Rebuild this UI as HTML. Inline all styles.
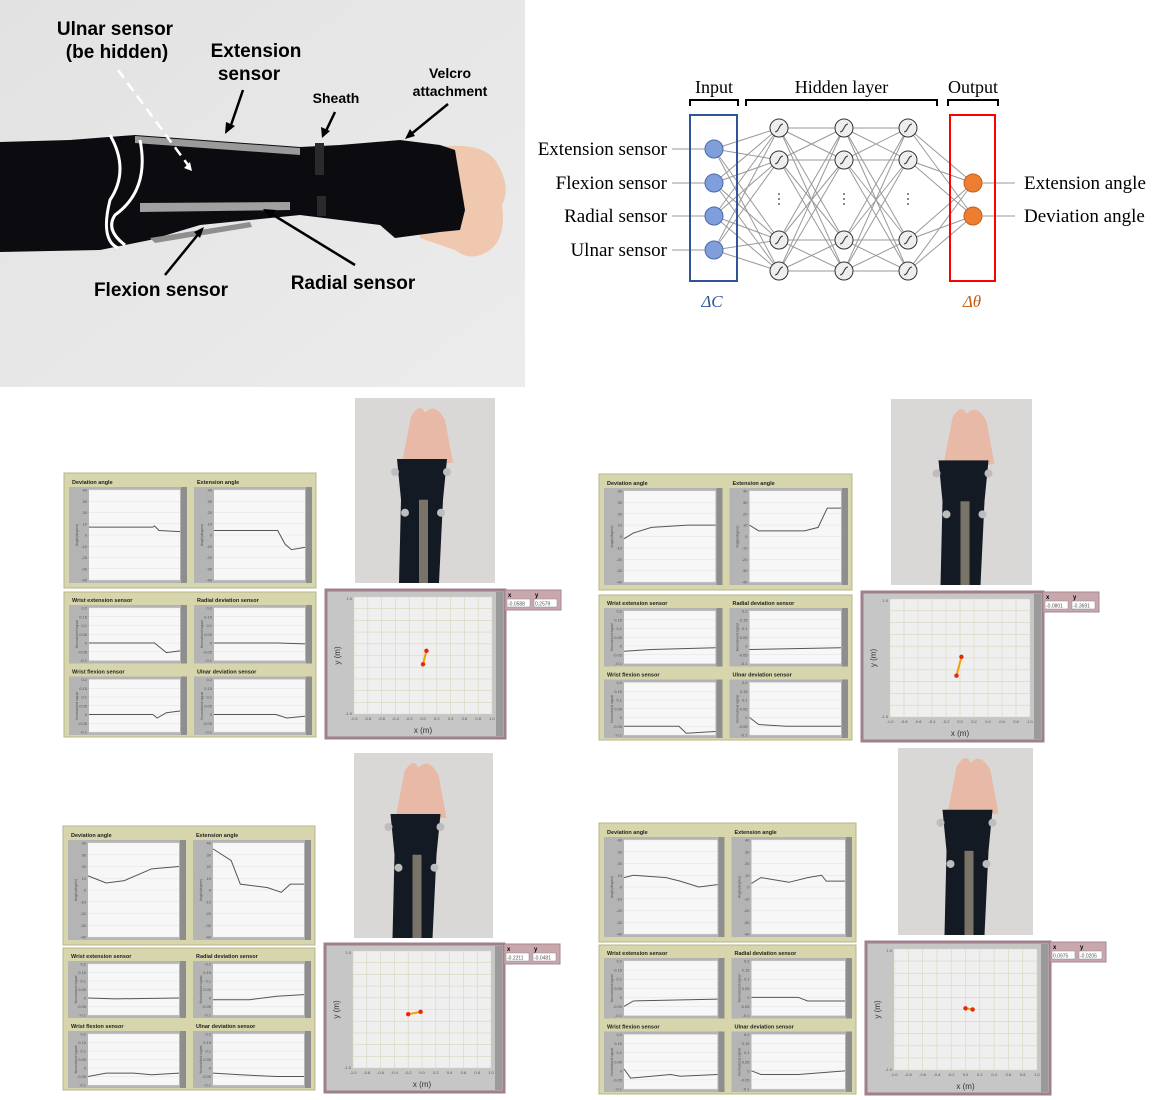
<!DOCTYPE html>
<html><head><meta charset="utf-8"><style>
html,body{margin:0;padding:0;background:#fff;}
svg{display:block;}
</style></head><body>
<svg id="s" width="1173" height="1100" xmlns="http://www.w3.org/2000/svg" font-family="Liberation Sans, sans-serif">
<defs><linearGradient id="wall" x1="0" y1="0" x2="1" y2="1"><stop offset="0" stop-color="#e2e2e2"/><stop offset="1" stop-color="#ececec"/></linearGradient></defs>
<rect x="0" y="0" width="525" height="387" fill="url(#wall)"/>
<path d="M430,148 Q480,140 495,160 Q512,185 502,205 Q507,240 487,252 Q470,262 455,250 L420,238 Z" fill="#f0c8b0"/>
<path d="M0,142 L70,140 L135,135 L300,147 L340,145 L400,140 L440,145 L455,150 L465,210 L460,230 L440,232 L395,238 L380,225 L300,215 L200,225 L150,240 L100,250 L0,252 Z" fill="#0b0b10"/>
<path d="M135,136 L300,148 L300,155 L135,143 Z" fill="#9a9a9a"/>
<path d="M140,203 L290,202 L290,210 L140,212 Z" fill="#a0a0a0"/>
<path d="M150,238 L250,222 L252,227 L155,243 Z" fill="#8e8e8e"/>
<path d="M110,135 Q130,170 110,200 Q100,240 118,248 M140,140 Q150,190 115,215 Q105,230 125,245" stroke="#fff" stroke-width="3" fill="none"/>
<rect x="315" y="143" width="9" height="32" fill="#2a2a2a"/>
<rect x="317" y="196" width="9" height="20" fill="#2a2a2a"/>
<line x1="118" y1="70" x2="188" y2="165" stroke="#fff" stroke-width="2.5" stroke-dasharray="10,6"/>
<path d="M184,168 L192,171 L190,162 Z" fill="#fff"/>
<g stroke="#000" stroke-width="2.5"><line x1="243" y1="90" x2="230" y2="128"/><line x1="335" y1="112" x2="325" y2="133"/><line x1="448" y1="104" x2="410" y2="135"/><line x1="200" y1="232" x2="165" y2="275"/><line x1="270" y1="213" x2="355" y2="265"/></g>
<g fill="#000"><path d="M225,134 L226,122 L235,126 Z"/><path d="M322,138 L321,127 L330,131 Z"/><path d="M405,139 L410,129 L415,136 Z"/><path d="M204,227 L200,238 L194,232 Z"/><path d="M263,209 L276,210 L270,218 Z"/></g>
<g font-weight="bold" fill="#000" text-anchor="middle">
<text x="115" y="35" font-size="19">Ulnar sensor</text><text x="117" y="58" font-size="19">(be hidden)</text>
<text x="256" y="57" font-size="19">Extension</text><text x="249" y="80" font-size="19">sensor</text>
<text x="336" y="103" font-size="14">Sheath</text>
<text x="450" y="78" font-size="14">Velcro</text><text x="450" y="96" font-size="14">attachment</text>
<text x="161" y="296" font-size="19">Flexion sensor</text>
<text x="353" y="289" font-size="19">Radial sensor</text>
</g>
<g id="nn" font-family="Liberation Serif, serif" fill="#000"></g>
<g id="q"></g>
</svg>
<script>
const NS="http://www.w3.org/2000/svg";
function el(p,t,a,txt){const e=document.createElementNS(NS,t);for(const k in a)e.setAttribute(k,a[k]);if(txt!==undefined)e.textContent=txt;p.appendChild(e);return e;}
const nn=document.getElementById('nn');
[[690,738,'Input'],[746,937,'Hidden layer'],[948,998,'Output']].forEach(b=>{
 el(nn,'path',{d:`M${b[0]},106 V100 H${b[1]} V106`,stroke:'#000','stroke-width':2,fill:'none'});
 el(nn,'text',{x:(b[0]+b[1])/2,y:93,'font-size':18,'text-anchor':'middle'},b[2]);});
const inY=[149,183,216,250],hx=[779,844,908],hy=[128,160,240,271],oy=[183,216];
const g=el(nn,'g',{stroke:'#999','stroke-width':1});
inY.forEach(a=>hy.forEach(b=>el(g,'line',{x1:714,y1:a,x2:779,y2:b})));
for(let i=0;i<2;i++)hy.forEach(a=>hy.forEach(b=>el(g,'line',{x1:hx[i],y1:a,x2:hx[i+1],y2:b})));
hy.forEach(a=>oy.forEach(b=>el(g,'line',{x1:908,y1:a,x2:973,y2:b})));
inY.forEach(y=>el(g,'line',{x1:672,y1:y,x2:705,y2:y}));
oy.forEach(y=>el(g,'line',{x1:980,y1:y,x2:1015,y2:y}));
el(nn,'rect',{x:690,y:115,width:47,height:166,fill:'none',stroke:'#2f5597','stroke-width':2});
el(nn,'rect',{x:950,y:115,width:45,height:166,fill:'none',stroke:'#f00','stroke-width':2});
inY.forEach(y=>el(nn,'circle',{cx:714,cy:y,r:9,fill:'#7f9edb',stroke:'#4a6aa8'}));
oy.forEach(y=>el(nn,'circle',{cx:973,cy:y,r:9,fill:'#ed7d31',stroke:'#c0601e'}));
hx.forEach(x=>{hy.forEach(y=>{el(nn,'circle',{cx:x,cy:y,r:9,fill:'#eee',stroke:'#333'});
 el(nn,'path',{d:`M${x-4},${y+4} C${x},${y+4} ${x},${y-4} ${x+4},${y-4}`,stroke:'#333',fill:'none'});});
 [194,199,204].forEach(y=>el(nn,'circle',{cx:x,cy:y,r:0.9,fill:'#333'}));});
[['Extension sensor',149],['Flexion sensor',183],['Radial sensor',216],['Ulnar sensor',250]].forEach(t=>el(nn,'text',{x:667,y:t[1]+6,'font-size':19,'text-anchor':'end'},t[0]));
[['Extension angle',183],['Deviation angle',216]].forEach(t=>el(nn,'text',{x:1024,y:t[1]+6,'font-size':19},t[0]));
el(nn,'text',{x:712,y:307,'font-size':17,'font-style':'italic',fill:'#2f5597','text-anchor':'middle'},'ΔC');
el(nn,'text',{x:972,y:307,'font-size':17,'font-style':'italic',fill:'#c55a11','text-anchor':'middle'},'Δθ');

const Q=document.getElementById('q');
function chart(x,y,w,h,title,ticks,vmin,vmax,pts){
 el(Q,'text',{x:x+3,y:y-3,'font-size':5.5,'font-weight':'bold',fill:'#222'},title);
 el(Q,'rect',{x:x,y:y,width:w,height:h,fill:'#b4b4b4'});
 el(Q,'rect',{x:x+w-6,y:y,width:6,height:h,fill:'#8e8e8e'});
 const px=x+20,py=y+3,pw=w-27,ph=h-6;
 el(Q,'rect',{x:px,y:py,width:pw,height:ph,fill:'#f7f7f7'});
 ticks.forEach(t=>{const yy=py+(vmax-t)/(vmax-vmin)*ph;el(Q,'line',{x1:px,y1:yy,x2:px+pw,y2:yy,stroke:'#e2e2e2','stroke-width':0.5});
  el(Q,'text',{x:px-2,y:yy+1.5,'font-size':4,'text-anchor':'end',fill:'#555'},t);});
 el(Q,'text',{x:0,y:0,'font-size':3.5,fill:'#555',transform:`translate(${x+9},${y+h/2}) rotate(-90)`,'text-anchor':'middle'},vmax>1?'Angle(degree)':'Normalized signal');
 el(Q,'polyline',{points:pts.map(p=>(px+p[0]*pw)+','+(py+(vmax-p[1])/(vmax-vmin)*ph)).join(' '),fill:'none',stroke:'#555','stroke-width':1});
}
const AT=[40,30,20,10,0,-10,-20,-30,-40],ST=[0.2,0.15,0.1,0.05,0,-0.05,-0.1];
function quad(o){
 const [ax,ay,aw,ah]=o.a,[sx,sy,sw,sh]=o.s;
 el(Q,'rect',{x:ax,y:ay,width:aw,height:ah,fill:'#d6d5ab',stroke:'#b6b58c'});
 const cw=aw/2-8;
 chart(ax+5,ay+14,cw,ah-19,'Deviation angle',AT,-40,40,o.c[0]);
 chart(ax+aw/2+4,ay+14,cw,ah-19,'Extension angle',AT,-40,40,o.c[1]);
 el(Q,'rect',{x:sx,y:sy,width:sw,height:sh,fill:'#d6d5ab',stroke:'#b6b58c'});
 const rh=(sh-28)/2;
 chart(sx+5,sy+13,cw,rh,'Wrist extension sensor',ST,-0.1,0.2,o.c[2]);
 chart(sx+sw/2+4,sy+13,cw,rh,'Radial deviation sensor',ST,-0.1,0.2,o.c[3]);
 chart(sx+5,sy+rh+26,cw,rh,'Wrist flexion sensor',ST,-0.1,0.2,o.c[4]);
 chart(sx+sw/2+4,sy+rh+26,cw,rh,'Ulnar deviation sensor',ST,-0.1,0.2,o.c[5]);
 const [px,py,pw,ph]=o.p;
 el(Q,'rect',{x:px,y:py,width:pw,height:ph,fill:'#d9d8d6'});
 const cx=px+pw/2+o.hx;
 el(Q,'path',{d:`M${cx-14},${py+ph*0.1} Q${cx-5},${py+ph*0.02} ${cx},${py+ph*0.08} Q${cx+10},${py+ph*0.02} ${cx+20},${py+ph*0.12} L${cx+28},${py+ph*0.35} L${cx-24},${py+ph*0.38} Z`,fill:'#e7b9a6'});
 el(Q,'path',{d:`M${cx-28},${py+ph*0.33} L${cx+22},${py+ph*0.33} L${cx+18},${py+ph*0.55} L${cx+14},${py+ph} L${cx-26},${py+ph} L${cx-24},${py+ph*0.55} Z`,fill:'#141a24'});
 el(Q,'rect',{x:cx-6,y:py+ph*0.55,width:9,height:ph*0.45,fill:'#7a7468'});
 [[cx-30,py+ph*0.4],[cx+22,py+ph*0.4],[cx-20,py+ph*0.62],[cx+16,py+ph*0.62]].forEach(c=>el(Q,'circle',{cx:c[0],cy:c[1],r:4,fill:'#bdbdbd'}));
 const [gx,gy,gw,gh]=o.g;
 el(Q,'rect',{x:gx,y:gy,width:gw,height:gh,fill:'#c6c6c6',stroke:'#9e7f8c','stroke-width':3});
 el(Q,'rect',{x:gx+gw-9,y:gy+2,width:7,height:gh-4,fill:'#9a9a9a'});
 const qx=gx+28,qy=gy+7,qw=gw-41,qh=gh-31;
 el(Q,'rect',{x:qx,y:qy,width:qw,height:qh,fill:'#efefef'});
 for(let i=0;i<=10;i++){el(Q,'line',{x1:qx+i*qw/10,y1:qy,x2:qx+i*qw/10,y2:qy+qh,stroke:'#d8d6b8','stroke-width':0.6});
  el(Q,'line',{x1:qx,y1:qy+i*qh/10,x2:qx+qw,y2:qy+i*qh/10,stroke:'#d8d6b8','stroke-width':0.6});
  el(Q,'text',{x:qx+i*qw/10,y:qy+qh+6,'font-size':4,'text-anchor':'middle',fill:'#555'},(-1+i*0.2).toFixed(1));}
 el(Q,'text',{x:qx-2,y:qy+3,'font-size':4,'text-anchor':'end',fill:'#555'},'1.0');
 el(Q,'text',{x:qx-2,y:qy+qh+1,'font-size':4,'text-anchor':'end',fill:'#555'},'-1.0');
 el(Q,'text',{x:qx+qw/2,y:gy+gh-5,'font-size':8,'text-anchor':'middle',fill:'#333'},'x (m)');
 el(Q,'text',{x:0,y:0,'font-size':8,fill:'#333','text-anchor':'middle',transform:`translate(${gx+14},${qy+qh/2}) rotate(-90)`},'y (m)');
 const m=p=>[qx+(p[0]+1)/2*qw,qy+(1-p[1])/2*qh];
 const A=m(o.seg[0]),B=m(o.seg[1]);
 el(Q,'line',{x1:A[0],y1:A[1],x2:B[0],y2:B[1],stroke:'#f5a000','stroke-width':2});
 el(Q,'circle',{cx:A[0],cy:A[1],r:2.2,fill:'#e8260c'});el(Q,'circle',{cx:B[0],cy:B[1],r:2.2,fill:'#e8260c'});
 const bx=gx+gw,by=gy;
 el(Q,'rect',{x:bx,y:by,width:56,height:20,fill:'#c9a8ad',stroke:'#a88890'});
 el(Q,'text',{x:bx+3,y:by+7,'font-size':6,'font-weight':'bold'},'x');
 el(Q,'text',{x:bx+30,y:by+7,'font-size':6,'font-weight':'bold'},'y');
 el(Q,'rect',{x:bx+2,y:by+9,width:23,height:8,fill:'#fff',stroke:'#888','stroke-width':0.5});
 el(Q,'rect',{x:bx+29,y:by+9,width:23,height:8,fill:'#fff',stroke:'#888','stroke-width':0.5});
 el(Q,'text',{x:bx+3,y:by+15.5,'font-size':5,fill:'#555'},o.v[0]);
 el(Q,'text',{x:bx+30,y:by+15.5,'font-size':5,fill:'#555'},o.v[1]);
}
quad({a:[64,473,252,115],s:[64,592,252,145],p:[355,398,140,185],g:[326,590,179,148],hx:0,
 c:[[[0,7],[0.7,7],[0.72,8],[0.77,4],[1,3]],[[0,4],[0.7,4],[0.78,-8],[0.85,-13],[1,-11]],
 [[0,0],[0.72,0],[0.85,-0.055],[1,-0.045]],[[0,0],[0.7,0],[1,-0.005]],[[0,0],[0.7,0],[0.75,-0.02],[0.85,0.01],[1,0.02]],[[0,0],[0.68,0],[0.8,-0.02],[1,-0.01]]],
 seg:[[0,-0.15],[0.05,0.08]],v:['-0.0588','0.2579']});
quad({a:[599,474,253,116],s:[599,595,253,145],p:[891,399,141,186],g:[862,592,181,149],hx:5,
 c:[[[0,-2],[0.1,3],[0.3,8],[0.7,10],[1,10]],[[0,10],[0.1,5],[0.6,5],[0.75,8],[0.85,25],[1,25]],
 [[0,-0.03],[0.3,-0.02],[1,-0.01]],[[0,-0.02],[1,-0.01]],[[0,-0.05],[0.6,-0.05],[0.68,-0.09],[1,-0.08]],[[0,0],[0.1,-0.04],[0.4,-0.05],[1,-0.05]]],
 seg:[[-0.05,-0.3],[0.02,0.02]],v:['-0.0801','-0.3691']});
quad({a:[63,826,252,119],s:[63,948,252,142],p:[354,753,139,185],g:[325,944,179,148],hx:-5,
 c:[[[0,12],[0.2,6],[0.4,8],[0.7,18],[1,20]],[[0,35],[0.2,25],[0.3,5],[0.6,2],[0.75,-2],[0.85,5],[1,5]],
 [[0,0],[0.3,-0.005],[1,0]],[[0,-0.01],[0.4,-0.01],[0.7,0.01],[1,0.02]],[[0,-0.05],[0.2,-0.03],[0.5,-0.03],[0.7,-0.04],[1,-0.03]],[[0,-0.03],[0.3,-0.04],[0.7,-0.05],[1,-0.05]]],
 seg:[[-0.2,-0.08],[-0.02,-0.04]],v:['-0.2211','-0.0481']});
quad({a:[599,823,257,119],s:[599,945,257,149],p:[898,748,135,187],g:[866,942,184,152],hx:5,
 c:[[[0,8],[0.1,10],[0.45,8],[0.6,5],[0.8,0],[1,2]],[[0,3],[0.1,8],[0.4,4],[0.6,8],[0.75,10],[0.8,5],[1,5]],
 [[0,-0.05],[0.1,-0.02],[1,-0.01]],[[0,0],[0.5,0],[0.6,-0.02],[1,-0.02]],[[0,0.01],[0.07,-0.04],[0.5,-0.02],[0.6,-0.03],[1,-0.02]],[[0,0],[0.1,-0.02],[0.5,-0.02],[1,0]]],
 seg:[[0,0.02],[0.1,0]],v:['0.0975','-0.0205']});
</script>
</body></html>
